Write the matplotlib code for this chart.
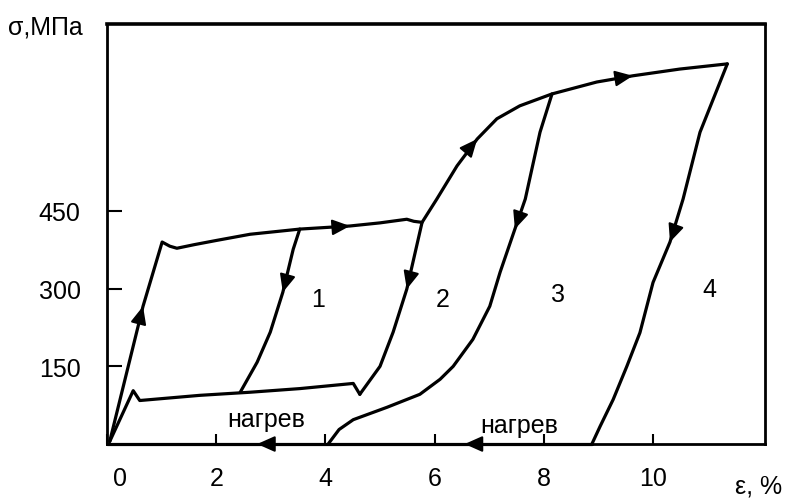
import numpy as np
import matplotlib.pyplot as plt
from matplotlib.transforms import ScaledTranslation

plt.rcParams['font.family'] = ['Liberation Sans', 'DejaVu Sans']

# main loading curve: elastic part, upper plateau, hardening
load_x = [0.05, 0.66, 1.01, 1.15, 1.28, 1.6, 2.0, 2.62, 3.53, 4.45, 5.0, 5.49,
          5.62, 5.77, 6.04, 6.41, 6.78, 7.14, 7.56, 8.15, 8.97, 9.63, 10.49, 11.36]
load_y = [5, 266, 390, 382, 378, 385, 393, 405, 415, 421, 427, 434,
          430, 428, 473, 537, 589, 628, 653, 676, 699, 711, 724, 734]

# unloading branches 1..4
unl1_x = [3.53, 3.41, 3.22, 2.99, 2.75, 2.44]
unl1_y = [415, 376, 293, 216, 158, 100]
unl2_x = [5.77, 5.49, 5.24, 5.0, 4.63]
unl2_y = [428, 299, 216, 150, 96]
unl3_x = [8.15, 7.93, 7.66, 7.47, 7.2, 7.01, 6.7, 6.34, 6.1, 5.73, 5.13, 4.51, 4.25, 4.05]
unl3_y = [676, 602, 473, 415, 332, 266, 202, 150, 125, 96, 71, 47, 28, 0]
unl4_x = [11.36, 10.86, 10.55, 10.31, 10.0, 9.76, 9.52, 9.27, 9.03, 8.88]
unl4_y = [734, 602, 473, 390, 312, 215, 150, 86, 34, 0]

# lower (reverse) plateau back to origin
low_x = [4.63, 4.51, 3.53, 2.62, 1.70, 0.60, 0.48, 0.05]
low_y = [96, 117, 107, 100, 94, 84, 103, 5]

# strain recovery on heating along the axis
heat_x = [8.88, 6.55, 4.05, 2.75, 0.0]
heat_y = [0, 0, 0, 0, 0]

loop_labels = ['1', '2', '3', '4']
loop_lx = [3.87, 6.15, 8.26, 11.04]
loop_ly = [280, 280, 289, 299]

heat_label = 'нагрев'
heat_lx = [2.91, 7.55]
heat_ly = [34, 24]

xticks = [0, 2, 4, 6, 8, 10]
yticks = [150, 300, 450]

fig = plt.figure(figsize=(7.85, 5.02), dpi=100)
ax = fig.add_axes([0.1363, 0.1135, 0.8382, 0.8367])
ax.set_xlim(0, 12.05)
ax.set_ylim(0, 811)

LW = 2.3
FS = 18
curves = [(load_x, load_y, [1, 9, 16, 21]),
          (unl1_x, unl1_y, [2]),
          (unl2_x, unl2_y, [1]),
          (unl3_x, unl3_y, [3]),
          (unl4_x, unl4_y, [3]),
          (low_x, low_y, []),
          (heat_x, heat_y, [1, 3])]

fig.canvas.draw()


def put_arrow(xs, ys, i):
    # arrowhead at point i, oriented along the curve in display space
    p0 = ax.transData.transform((xs[max(i - 1, 0)], ys[max(i - 1, 0)]))
    p1 = ax.transData.transform((xs[min(i + 1, len(xs) - 1)], ys[min(i + 1, len(ys) - 1)]))
    d = (p1 - p0) / np.hypot(*(p1 - p0))
    ax.annotate('', xy=(xs[i], ys[i]), xytext=(-d[0] * 9, -d[1] * 9),
                textcoords='offset points',
                arrowprops=dict(arrowstyle='-|>,head_length=0.9,head_width=0.4',
                                color='k', lw=1.5, shrinkA=0, shrinkB=0,
                                mutation_scale=12),
                annotation_clip=False)


for xs, ys, arrows in curves:
    ax.plot(xs, ys, color='k', lw=LW, solid_joinstyle='round',
            solid_capstyle='round', clip_on=False)
    for i in arrows:
        put_arrow(xs, ys, i)

for t, x, y in zip(loop_labels, loop_lx, loop_ly):
    ax.text(x, y, t, fontsize=FS, ha='center', va='center')
for x, y in zip(heat_lx, heat_ly):
    ax.text(x, y, heat_label, fontsize=FS, ha='center', va='baseline')

for s in ax.spines.values():
    s.set_linewidth(2)
ax.spines['top'].set_linewidth(2.6)

ax.set_xticks(xticks)
ax.set_xticklabels([str(v) for v in xticks])
ax.set_yticks(yticks)
ax.set_yticklabels([str(v) for v in yticks])
ax.tick_params(axis='x', direction='in', length=7, width=1.5, pad=16, labelsize=FS)
ax.tick_params(axis='y', direction='in', length=11, width=1.5, pad=19, labelsize=FS)

# the zero label sits a bit to the right of the corner
lbl0 = ax.get_xticklabels()[0]
lbl0.set_transform(lbl0.get_transform() + ScaledTranslation(0.13, 0, fig.dpi_scale_trans))

fig.text(8 / 785, 1 - 35 / 502, 'σ,МПа', fontsize=FS, ha='left', va='baseline')
fig.text(782 / 785, 1 - 487 / 502, 'ε, %', fontsize=FS, ha='right', va='center')

fig.savefig('out.png', dpi=100)
